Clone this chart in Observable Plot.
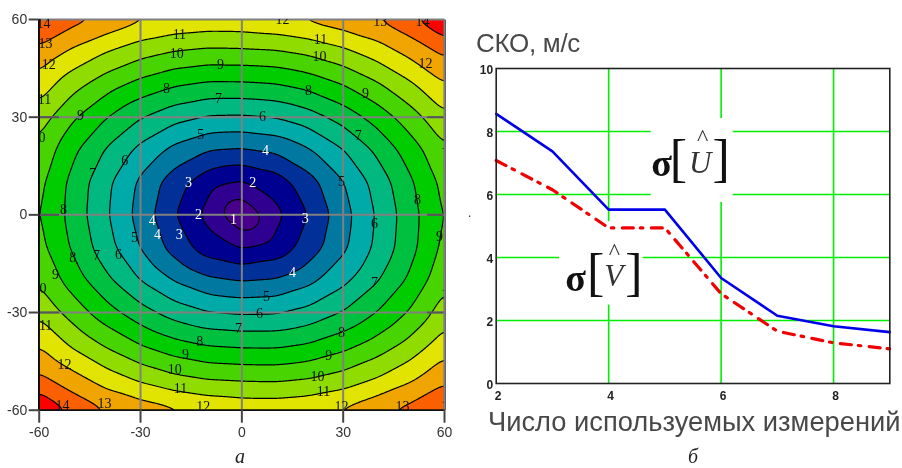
<!DOCTYPE html>
<html><head><meta charset="utf-8">
<script src="https://cdn.jsdelivr.net/npm/d3@7"></script>
<script src="https://cdn.jsdelivr.net/npm/@observablehq/plot@0.6"></script>
<style>
html,body{margin:0;padding:0;background:#fff;width:902px;height:468px;overflow:hidden}
#a,#b{position:absolute;top:0;filter:blur(0.45px)}
#a{left:0}#b{left:460px}
.t{position:absolute;white-space:nowrap;font-family:"Liberation Sans",Arial,sans-serif;color:#484848;filter:blur(0.4px)}
.c{font-family:'Liberation Serif',serif;font-style:italic;color:#222;font-size:20px;line-height:16px}
svg{background:transparent}
</style></head><body>
<div id="a"></div><div id="b"></div>
<div class="t" id="ylab" style="left:476px;top:28px;font-size:26px;letter-spacing:-0.3px;">СКО, м/с</div>
<div class="t" id="xlab" style="left:488px;top:406px;font-size:27.3px;">Число используемых измерений</div>
<div class="t c" style="left:235px;top:448.4px;">а</div>
<div class="t c" style="left:688px;top:448.4px;">б</div>
<div class="t" style="left:468px;top:206px;font-size:12px;color:#222">.</div>
<script>
// Left panel: field on a 10-unit grid
const gridX = [-60,-50,-40,-30,-20,-10,0,10,20,30,40,50,60];
const gridY = [60,50,40,30,20,10,0,-10,-20,-30,-40,-50,-60];
const row60  = [14.2,13.35,12.8,12.15,11.85,11.7,11.72,11.9,12.2,12.6,13.0,13.8,15.0];
const row50  = [12.7,11.77,10.98,10.36,9.94,9.75,9.79,9.88,10.2,10.73,11.45,12.31,13.2];
const row40  = [11.55,10.35,9.41,8.65,8.1,7.82,7.83,7.95,8.35,9.0,9.85,10.84,11.95];
const row30  = [10.5,9.13,8.02,7.06,6.33,5.91,5.87,6.04,6.57,7.39,8.4,9.55,10.8];
const row20  = [9.75,8.21,6.9,5.71,4.71,4.05,3.92,4.18,4.92,5.97,7.2,8.52,9.85];
const row10  = [9.3,7.68,6.22,4.79,3.45,2.35,1.9,2.46,3.6,4.95,6.38,7.85,9.33];
const row0   = [9.15,7.6,6.1,4.6,3.05,1.65,0,1.65,3.05,4.6,6.1,7.6,9.15];
const rowM10 = [9.33,7.85,6.38,4.95,3.6,2.46,1.9,2.35,3.45,4.79,6.22,7.68,9.3];
const rowM20 = [9.85,8.52,7.2,5.97,4.92,4.18,3.92,4.05,4.71,5.71,6.9,8.21,9.75];
const rowM30 = [10.8,9.55,8.4,7.39,6.57,6.04,5.87,5.91,6.33,7.06,8.02,9.13,10.5];
const rowM40 = [11.95,10.84,9.85,9.0,8.35,7.95,7.83,7.82,8.1,8.65,9.41,10.35,11.55];
const rowM50 = [13.2,12.31,11.45,10.73,10.2,9.88,9.79,9.75,9.94,10.36,10.98,11.77,12.7];
const rowM60 = [15.0,13.8,13.0,12.6,12.2,11.9,11.72,11.7,11.85,12.15,12.8,13.35,14.2];
const rows = [row60,row50,row40,row30,row20,row10,row0,rowM10,rowM20,rowM30,rowM40,rowM50,rowM60];
const levels = [0,1,2,3,4,5,6,7,8,9,10,11,12,13,14];
const bandColors = ["#48008c","#300090","#000090","#003098","#0078a0","#00aaa8","#00b880","#00c040","#00cc00","#48d400","#90dc00","#e0e400","#f0a400","#fa6000","#ff0000"];
const axisTicks = [-60,-30,0,30,60];
const gridTicks = [-30,0,30];
// contour labels: text, x, y in axis units
const labelText = [14,13,12,11,10,9,8,7,6,5,8,7,9,10,11,3,2,1,4,4,3,5,12,11,10,8,9,6,4,2,7,5,3,8,6,12,13,14,10,9,10,14,8,7,6,9,10,11,12,14,13,8,9,10,11,12,7,4,5,6,7,8,9,10,11,12,13];
const labelX = [-58.7,-58.1,-57.2,-58.4,-60.2,-47.8,-52.8,-44.2,-34.7,-12.2,-22.3,-6.9,-6.3,-19.3,-18.5,-15.8,-12.8,-2.5,-26.5,-25,-18.5,-31.8,12,23.3,23,19.7,36.6,6.1,7,3.2,34.5,29.5,18.8,52,39.3,54.4,41,53.5,61,58.5,61,61,-50.1,-43,-36.5,-55.2,-59.9,-58.1,-52.5,-53.1,-40.7,-12.5,-16.7,-19.9,-18.2,-11.4,-1,15,7.3,5.2,39.3,29.5,25.7,22.4,24.2,29.5,47.6];
const labelY = [58.8,52.6,46.2,35.4,23.8,30.5,1.6,12.7,16.7,24.7,38.8,35.7,46.2,49.6,55.4,9.9,0.1,-1.4,-1.7,-6,-6,-7,60,53.9,48.6,38.2,37.3,30.2,19.8,9.9,24.4,10.2,-1.1,4.7,-2.7,46.5,59.4,59.4,21.6,-6.6,-24.5,-58.9,-13.1,-12.5,-12.2,-18.3,-22.6,-34,-46,-58.5,-57.9,-38.9,-42.9,-47.5,-53.3,-58.9,-34.9,-17.7,-25.1,-30.3,-20.8,-36.1,-43.2,-49.6,-54.2,-58.9,-58.9];
const whiteLabelLimit = 4;

const field = rows.flatMap((r,i)=>r.map((v,j)=>({x:gridX[j],y:gridY[i],v})));
const labels = labelText.map((t,i)=>({t,x:labelX[i],y:labelY[i]}));
const axisFont = "'Liberation Sans',Arial,sans-serif";

document.getElementById("a").append(Plot.plot({
  width:460,height:468,marginLeft:38.7,marginRight:16,marginTop:19,marginBottom:58.3,
  style:{background:"transparent",overflow:"visible"},
  x:{domain:[-60,60]},y:{domain:[-60,60]},
  color:{type:"threshold",domain:levels.slice(1),range:bandColors},
  marks:[
    Plot.contour(field,{x:"x",y:"y",fill:"v",thresholds:levels,interpolate:"barycentric",pixelSize:1,blur:5,stroke:"#000",strokeWidth:1.2}),
    Plot.ruleX(gridTicks,{stroke:"#808080",strokeWidth:2}),
    Plot.ruleY(gridTicks,{stroke:"#808080",strokeWidth:2}),
    Plot.ruleY(gridTicks,{x1:-60,x2:-54,stroke:"#555",strokeWidth:2}),
    Plot.ruleY(gridTicks,{x1:55,x2:60,stroke:"#555",strokeWidth:2}),
    Plot.ruleY([60],{stroke:"#808080",strokeWidth:2}),
    Plot.ruleX([60],{stroke:"#808080",strokeWidth:2}),
    Plot.ruleX([-60],{stroke:"#111",strokeWidth:1.5}),
    Plot.ruleY([-60],{stroke:"#111",strokeWidth:1.5}),
    Plot.text(labels,{x:"x",y:"y",text:"t",clip:"frame",fill:d=>d.t<=whiteLabelLimit?"#fff":"#111",fontFamily:"'Liberation Serif',serif",fontSize:14}),
    Plot.axisX({ticks:axisTicks,tickFormat:String,tickSize:13,tickPadding:4,strokeWidth:2,stroke:"#444",fontFamily:axisFont,fontSize:14,fill:"#333",label:null}),
    Plot.axisY({ticks:axisTicks,tickFormat:String,tickSize:10,tickPadding:2,strokeWidth:2,stroke:"#444",fontFamily:axisFont,fontSize:14,fill:"#333",label:null})
  ]
}));

// Right panel
const nMeas = [2,3,4,5,6,7,8,9];
const sigmaU = [8.56,7.37,5.52,5.52,3.35,2.15,1.82,1.63];
const sigmaV = [7.08,6.15,4.94,4.94,2.85,1.66,1.29,1.10];
const gridXB = [4,6,8];
const gridYB = [2,4,6,8];
const boxes = [{x1:4.757,x2:6.215,y1:5.75,y2:8.41},{x1:3.126,x2:4.614,y1:2.49,y2:5.14}];
const sym = [
 {s:"σ",x:4.94,y:6.98,size:38,w:"bold",st:"normal",c:"#111"},
 {s:"[",x:5.24,y:7.11,size:52,w:"normal",st:"normal",c:"#111"},
 {s:"]",x:6.0,y:7.11,size:52,w:"normal",st:"normal",c:"#111"},
 {s:"U",x:5.63,y:7.01,size:31,w:"normal",st:"italic",c:"#333"},
 {s:"^",x:5.67,y:7.8,size:24,w:"normal",st:"normal",c:"#333"},
 {s:"σ",x:3.41,y:3.32,size:38,w:"bold",st:"normal",c:"#111"},
 {s:"[",x:3.77,y:3.51,size:52,w:"normal",st:"normal",c:"#111"},
 {s:"]",x:4.45,y:3.51,size:52,w:"normal",st:"normal",c:"#111"},
 {s:"V",x:4.09,y:3.41,size:31,w:"normal",st:"italic",c:"#333"},
 {s:"^",x:4.1,y:4.2,size:24,w:"normal",st:"normal",c:"#333"}
];
const table = nMeas.map((n,i)=>({n,u:sigmaU[i],v:sigmaV[i]}));
const symMarks = d3.groups(sym,d=>[d.size,d.w,d.st,d.c].join()).map(([k,g])=>Plot.text(g,{x:"x",y:"y",text:"s",fontFamily:"'Liberation Serif',serif",fontSize:g[0].size,fontWeight:g[0].w,fontStyle:g[0].st,fill:g[0].c}));

document.getElementById("b").append(Plot.plot({
  width:442,height:468,marginLeft:35.7,marginRight:12.7,marginTop:68,marginBottom:85,
  style:{background:"transparent",overflow:"visible"},
  x:{domain:[2,9]},y:{domain:[0,10]},
  marks:[
    Plot.ruleX(gridXB,{stroke:"#00ee00",strokeWidth:1.6}),
    Plot.ruleY(gridYB,{stroke:"#00ee00",strokeWidth:1.6}),
    Plot.rect(boxes,{x1:"x1",x2:"x2",y1:"y1",y2:"y2",fill:"#fff"}),
    Plot.line(table,{x:"n",y:"v",stroke:"#f00000",strokeWidth:3.2,strokeDasharray:"11,7,2.5,8.5"}),
    Plot.line(table,{x:"n",y:"u",stroke:"#0000e8",strokeWidth:2.6}),
    Plot.frame({stroke:"#222",strokeWidth:1.6}),
    ...symMarks,
    Plot.axisX({ticks:[2,4,6,8],tickFormat:String,tickSize:0,tickPadding:8,dx:2,fontSize:12,fontWeight:"bold",fontFamily:axisFont,fill:"#222",label:null}),
    Plot.axisY({ticks:[0,2,4,6,8,10],tickFormat:String,tickSize:0,tickPadding:3,dy:2,fontSize:12,fontWeight:"bold",fontFamily:axisFont,fill:"#222",label:null})
  ]
}));
</script>
</body></html>
